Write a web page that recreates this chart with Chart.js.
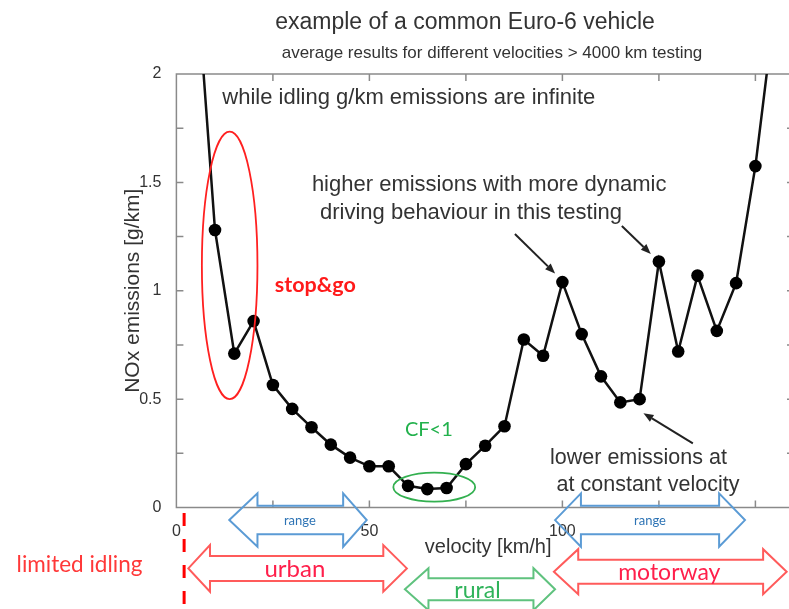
<!DOCTYPE html>
<html>
<head>
<meta charset="utf-8">
<title>NOx emissions vs velocity</title>
<script src="https://cdn.jsdelivr.net/npm/chart.js@4.4.1/dist/chart.umd.min.js"></script>
<style>
  html, body { margin: 0; padding: 0; background: #fff; overflow: hidden; }
  #wrap { width: 789px; height: 609px; overflow: hidden; }
</style>
</head>
<body>
<div id="wrap"><canvas id="noxChart" width="820" height="609"></canvas></div>
<script>
// Average NOx per velocity bin (km/h -> g/km)
const velocity = [5, 10, 15, 20, 25, 30, 35, 40, 45, 50, 55, 60, 65, 70, 75, 80,
                  85, 90, 95, 100, 105, 110, 115, 120, 125, 130, 135, 140, 145, 150, 155];
const nox = [2.5, 1.28, 0.71, 0.86, 0.565, 0.455, 0.37, 0.29, 0.23, 0.19, 0.19, 0.10,
             0.085, 0.09, 0.20, 0.285, 0.375, 0.775, 0.70, 1.04, 0.80, 0.605, 0.485, 0.50,
             1.135, 0.72, 1.07, 0.815, 1.035, 1.575, 2.3];

const xTickLabels = [0, 50, 100, 150];
const yTickLabels = [0, 0.5, 1, 1.5, 2];

const sans = '"Liberation Sans", Arial, Helvetica, sans-serif';
const office = 'Lato, "Open Sans", sans-serif';

// Notes inside the plot, in axis units
const notes = [
  { text: 'while idling g/km emissions are infinite', x: 11.9, y: 1.89, font: '22px ' + sans, color: '#333', align: 'left' },
  { text: 'higher emissions with more dynamic', x: 35.1, y: 1.488, font: '22px ' + sans, color: '#333', align: 'left' },
  { text: 'driving behaviour in this testing', x: 37.2, y: 1.359, font: '22px ' + sans, color: '#333', align: 'left' },
  { text: 'lower emissions at', x: 96.8, y: 0.228, font: '21.5px ' + sans, color: '#333', align: 'left' },
  { text: 'at constant velocity', x: 98.5, y: 0.104, font: '21.5px ' + sans, color: '#333', align: 'left' },
  { text: 'stop&go', x: 25.5, y: 1.027, font: 'bold 21.5px ' + office, color: '#ff1a1a', align: 'left' },
  { text: 'CF<1', x: 59.2, y: 0.358, font: '20px ' + office, color: '#22b14c', align: 'left' }
];

// Pointer arrows: [x0, y0, x1, y1], head at the second point
const pointers = [
  [87.7, 1.262, 98.1, 1.080],
  [115.4, 1.299, 122.9, 1.170],
  [133.8, 0.296, 121.0, 0.435]
];

// Highlight ellipses: centre and radii in axis units
const rings = [
  { cx: 13.8, cy: 1.117, rx: 7.2, ry: 0.617, color: '#ff2020' },
  { cx: 66.8, cy: 0.094, rx: 10.6, ry: 0.067, color: '#33b050' }
];

// Driving ranges below the axis: tip, head base, head base, tip (km/h)
const ranges = [
  { label: 'range', span: [13.7, 21, 43.2, 49.3], yc: -0.058, head: 26.7, shaft: 14.2, line: '#5b9bd5', color: '#2e74b5', font: '13px ' + office, lx: 32 },
  { label: 'range', span: [98.1, 104.8, 140.6, 147.3], yc: -0.058, head: 26.7, shaft: 14.2, line: '#5b9bd5', color: '#2e74b5', font: '13px ' + office, lx: 122.7 },
  { label: 'urban', span: [3.1, 8.7, 53.6, 59.7], yc: -0.281, head: 23.3, shaft: 12.5, line: '#ff5b5b', color: '#ff1f4b', font: '24px ' + office, lx: 30.7 },
  { label: 'rural', span: [59.2, 65.3, 92.5, 98.1], yc: -0.377, head: 21, shaft: 11, line: '#5fc27e', color: '#2fb35a', font: '23px ' + office, lx: 78 },
  { label: 'motorway', span: [97.8, 104.1, 152, 158.1], yc: -0.296, head: 22.5, shaft: 12, line: '#ff5b5b', color: '#ff1f4b', font: '23px ' + office, lx: 127.7 }
];

const idleMark = { x: 2, y0: -0.025, y1: -0.6 };
const idleNote = { text: 'limited idling', x: -41.4, y: -0.265 };

function blockArrow(ctx, s, yc, head, shaft) {
  ctx.beginPath();
  ctx.moveTo(s[0], yc);
  ctx.lineTo(s[1], yc - head);
  ctx.lineTo(s[1], yc - shaft);
  ctx.lineTo(s[2], yc - shaft);
  ctx.lineTo(s[2], yc - head);
  ctx.lineTo(s[3], yc);
  ctx.lineTo(s[2], yc + head);
  ctx.lineTo(s[2], yc + shaft);
  ctx.lineTo(s[1], yc + shaft);
  ctx.lineTo(s[1], yc + head);
  ctx.closePath();
  ctx.stroke();
}

// Box frame with inward tick marks
const frame = {
  id: 'frame',
  beforeDatasetsDraw(chart) {
    const { ctx, chartArea: a, scales: { x, y } } = chart;
    ctx.save();
    ctx.strokeStyle = '#8a8a8a';
    ctx.lineWidth = 1.5;
    ctx.strokeRect(a.left, a.top, a.right - a.left, a.bottom - a.top);
    ctx.beginPath();
    for (let v = 25; v < 160; v += 25) {
      const p = x.getPixelForValue(v);
      ctx.moveTo(p, a.bottom); ctx.lineTo(p, a.bottom - 7);
      ctx.moveTo(p, a.top); ctx.lineTo(p, a.top + 7);
    }
    for (let v = 0.25; v < 2; v += 0.25) {
      const p = y.getPixelForValue(v);
      ctx.moveTo(a.left, p); ctx.lineTo(a.left + 7, p);
      ctx.moveTo(a.right, p); ctx.lineTo(a.right - 7, p);
    }
    ctx.stroke();
    ctx.restore();
  }
};

const annotate = {
  id: 'annotate',
  afterDraw(chart) {
    const { ctx, chartArea: a, scales: { x, y } } = chart;
    const px = v => x.getPixelForValue(v);
    const py = v => y.getPixelForValue(v);
    const mid = (a.left + a.right) / 2 + 3;
    ctx.save();
    ctx.textBaseline = 'middle';

    // titles
    ctx.fillStyle = '#333';
    ctx.textAlign = 'center';
    ctx.font = '23px ' + sans;
    ctx.fillText('example of a common Euro-6 vehicle', 465, 23);
    ctx.font = '17px ' + sans;
    ctx.fillText('average results for different velocities > 4000 km testing', 492, 53);
    ctx.font = '20px ' + sans;
    ctx.fillText('velocity [km/h]', mid, 547);
    ctx.save();
    ctx.translate(133, (a.top + a.bottom) / 2);
    ctx.rotate(-Math.PI / 2);
    ctx.font = '21px ' + sans;
    ctx.fillText('NOx emissions [g/km]', 0, 0);
    ctx.restore();

    // text notes
    notes.forEach(n => {
      ctx.font = n.font;
      ctx.fillStyle = n.color;
      ctx.textAlign = n.align;
      ctx.fillText(n.text, px(n.x), py(n.y));
    });

    // ellipses
    ctx.lineWidth = 1.8;
    rings.forEach(r => {
      ctx.strokeStyle = r.color;
      ctx.beginPath();
      ctx.ellipse(px(r.cx), py(r.cy), Math.abs(px(r.cx + r.rx) - px(r.cx)),
                  Math.abs(py(r.cy + r.ry) - py(r.cy)), 0, 0, Math.PI * 2);
      ctx.stroke();
    });

    // pointer arrows
    ctx.strokeStyle = '#222';
    ctx.fillStyle = '#222';
    ctx.lineWidth = 2;
    pointers.forEach(p => {
      const x0 = px(p[0]), y0 = py(p[1]), x1 = px(p[2]), y1 = py(p[3]);
      const ang = Math.atan2(y1 - y0, x1 - x0);
      const hl = 10, hw = 4;
      const bx = x1 - hl * Math.cos(ang), by = y1 - hl * Math.sin(ang);
      ctx.beginPath();
      ctx.moveTo(x0, y0);
      ctx.lineTo(bx, by);
      ctx.stroke();
      ctx.beginPath();
      ctx.moveTo(x1, y1);
      ctx.lineTo(bx + hw * Math.sin(ang), by - hw * Math.cos(ang));
      ctx.lineTo(bx - hw * Math.sin(ang), by + hw * Math.cos(ang));
      ctx.closePath();
      ctx.fill();
    });

    // driving range arrows
    ranges.forEach(r => {
      ctx.strokeStyle = r.line;
      ctx.lineWidth = 2;
      blockArrow(ctx, r.span.map(px), py(r.yc), r.head, r.shaft);
      ctx.font = r.font;
      ctx.fillStyle = r.color;
      ctx.textAlign = 'center';
      ctx.fillText(r.label, px(r.lx), py(r.yc) + 1);
    });

    // idling marker
    ctx.strokeStyle = '#ff0000';
    ctx.lineWidth = 3;
    ctx.setLineDash([13, 13]);
    ctx.beginPath();
    ctx.moveTo(px(idleMark.x), py(idleMark.y0));
    ctx.lineTo(px(idleMark.x), py(idleMark.y1));
    ctx.stroke();
    ctx.setLineDash([]);
    ctx.font = '22.5px ' + office;
    ctx.fillStyle = '#ff3838';
    ctx.textAlign = 'left';
    ctx.fillText(idleNote.text, px(idleNote.x), py(idleNote.y));
    ctx.restore();
  }
};

const ctx = document.getElementById('noxChart').getContext('2d');

new Chart(ctx, {
  type: 'line',
  data: {
    datasets: [{
      data: velocity.map((v, i) => ({ x: v, y: nox[i] })),
      borderColor: '#111',
      borderWidth: 2.5,
      pointRadius: 6.3,
      pointBackgroundColor: '#000',
      pointBorderColor: '#000',
      pointBorderWidth: 0,
      tension: 0
    }]
  },
  options: {
    responsive: false,
    animation: false,
    devicePixelRatio: 1,
    layout: {
      padding: { left: 136.4, right: 26, top: 74, bottom: 71.5 }
    },
    plugins: {
      legend: { display: false },
      tooltip: { enabled: false }
    },
    scales: {
      x: {
        type: 'linear',
        min: 0,
        max: 160,
        grid: { display: false },
        border: { display: false },
        afterFit: s => { s.height = 30; },
        ticks: {
          stepSize: 25,
          autoSkip: false,
          maxRotation: 0,
          padding: 6,
          color: '#333',
          font: { family: sans, size: 16 },
          callback: v => xTickLabels.includes(v) ? String(v) : ''
        }
      },
      y: {
        min: 0,
        max: 2,
        grid: { display: false },
        border: { display: false },
        afterFit: s => { s.width = 40; },
        ticks: {
          stepSize: 0.25,
          autoSkip: false,
          padding: 7,
          color: '#333',
          font: { family: sans, size: 16 },
          callback: v => yTickLabels.includes(v) ? String(v) : ''
        }
      }
    }
  },
  plugins: [frame, annotate]
});
</script>
</body>
</html>
